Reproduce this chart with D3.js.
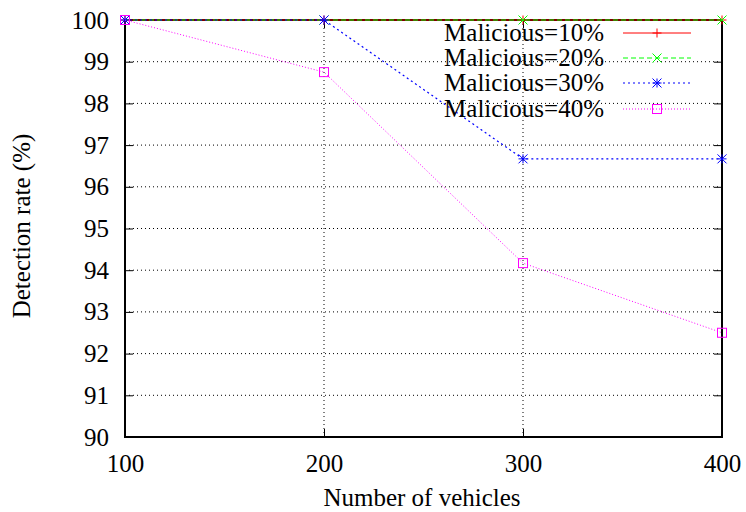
<!DOCTYPE html>
<html><head><meta charset="utf-8">
<script src="https://cdn.jsdelivr.net/npm/d3@7"></script>
<style>body{margin:0;background:#fff} svg text{font-family:"Liberation Serif","Times New Roman",serif;}</style>
</head><body><svg id="c" width="746" height="512"></svg>
<script>
const xValues = [100, 200, 300, 400];
const series10 = [100, 100, 100, 100];
const series20 = [100, 100, 100, 100];
const series30 = [100, 100, 96.67, 96.67];
const series40 = [100, 98.75, 94.17, 92.5];
const seriesNames = ["Malicious=10%", "Malicious=20%", "Malicious=30%", "Malicious=40%"];
const yTicks = [90, 91, 92, 93, 94, 95, 96, 97, 98, 99, 100];
const xTicks = [100, 200, 300, 400];

const svg = d3.select("#c");
const L = 125, R = 722, T = 20, B = 437;
const x = d3.scaleLinear().domain([100, 400]).range([L, R]);
const y = d3.scaleLinear().domain([90, 100]).range([B, T]);
const FS = 25;

// grid
svg.append("g").selectAll("line").data(yTicks.slice(1, -1)).join("line")
  .attr("x1", L).attr("x2", R).attr("y1", d => y(d)).attr("y2", d => y(d))
  .attr("stroke", "#000").attr("stroke-width", 1).attr("stroke-dasharray", "1,3");
svg.append("g").selectAll("line").data(xTicks.slice(1, -1)).join("line")
  .attr("y1", T).attr("y2", B).attr("x1", d => x(d)).attr("x2", d => x(d))
  .attr("stroke", "#000").attr("stroke-width", 1).attr("stroke-dasharray", "1,3");

// axes (ticks inward)
const axL = svg.append("g").attr("transform", `translate(${L},0)`)
  .call(d3.axisLeft(y).tickValues(yTicks).tickSize(-8).tickPadding(16).tickFormat(d3.format("d")));
const axR = svg.append("g").attr("transform", `translate(${R},0)`)
  .call(d3.axisRight(y).tickValues(yTicks).tickSize(-8).tickFormat(""));
const axB = svg.append("g").attr("transform", `translate(0,${B})`)
  .call(d3.axisBottom(x).tickValues(xTicks).tickSize(-8).tickPadding(35).tickFormat(d3.format("d")));
const axT = svg.append("g").attr("transform", `translate(0,${T})`)
  .call(d3.axisTop(x).tickValues(xTicks).tickSize(-8).tickFormat(""));
[axL, axR, axB, axT].forEach(a => {
  a.attr("font-family", null);
  a.select(".domain").remove();
  a.selectAll("line").attr("stroke", "#000");
  a.selectAll("text").attr("font-size", FS).attr("fill", "#000");
});
axB.selectAll("text").attr("dy", "0");

svg.append("rect").attr("x", L).attr("y", T).attr("width", R - L).attr("height", B - T)
  .attr("fill", "none").attr("stroke", "#000").attr("stroke-width", 2);

const cfg = [
  {data: series10, color: "#ff0000", dash: null, marker: "plus", w: 1},
  {data: series20, color: "#00ff00", dash: "5,3", marker: "cross", w: 1},
  {data: series30, color: "#0000ff", dash: "2,3", marker: "star", w: 1.2},
  {data: series40, color: "#ff00ff", dash: "1,2", marker: "square", w: 1}
];
const line = d3.line().x((d, i) => x(xValues[i])).y(d => y(d));

function drawMarker(g, type, cx, cy, color) {
  const s = 4.5;
  if (type === "plus") {
    g.append("path").attr("d", `M${cx - s},${cy}H${cx + s}M${cx},${cy - s}V${cy + s}`).attr("stroke", color).attr("fill", "none");
  } else if (type === "cross") {
    g.append("path").attr("d", `M${cx - s},${cy - s}L${cx + s},${cy + s}M${cx - s},${cy + s}L${cx + s},${cy - s}`).attr("stroke", color).attr("fill", "none");
  } else if (type === "star") {
    g.append("path").attr("d", `M${cx - s},${cy}H${cx + s}M${cx},${cy - s}V${cy + s}M${cx - s},${cy - s}L${cx + s},${cy + s}M${cx - s},${cy + s}L${cx + s},${cy - s}`).attr("stroke", color).attr("fill", "none");
  } else {
    g.append("rect").attr("x", cx - s).attr("y", cy - s).attr("width", 2 * s).attr("height", 2 * s).attr("stroke", color).attr("fill", "none");
  }
}

const plot = svg.append("g");
cfg.forEach(c => {
  plot.append("path").datum(c.data).attr("d", line).attr("fill", "none")
    .attr("stroke", c.color).attr("stroke-width", c.w).attr("stroke-dasharray", c.dash);
  const g = plot.append("g");
  c.data.forEach((v, i) => drawMarker(g, c.marker, x(xValues[i]), y(v), c.color));
});

// legend
const lg = svg.append("g");
const rowY = [33, 58, 83, 109];
cfg.forEach((c, i) => {
  lg.append("text").attr("x", 604).attr("y", rowY[i]).attr("dy", "0.33em")
    .attr("text-anchor", "end").attr("font-size", FS).attr("fill", "#000")
    .text(seriesNames[i]);
  lg.append("line").attr("x1", 623).attr("x2", 691).attr("y1", rowY[i]).attr("y2", rowY[i])
    .attr("stroke", c.color).attr("stroke-width", c.w).attr("stroke-dasharray", c.dash);
  drawMarker(lg, c.marker, 657, rowY[i], c.color);
});

svg.append("text").attr("x", 422).attr("y", 506).attr("text-anchor", "middle")
  .attr("font-size", FS).text("Number of vehicles");
svg.append("text").attr("transform", "translate(30,226) rotate(-90)").attr("text-anchor", "middle")
  .attr("font-size", FS).text("Detection rate (%)");
</script></body></html>
